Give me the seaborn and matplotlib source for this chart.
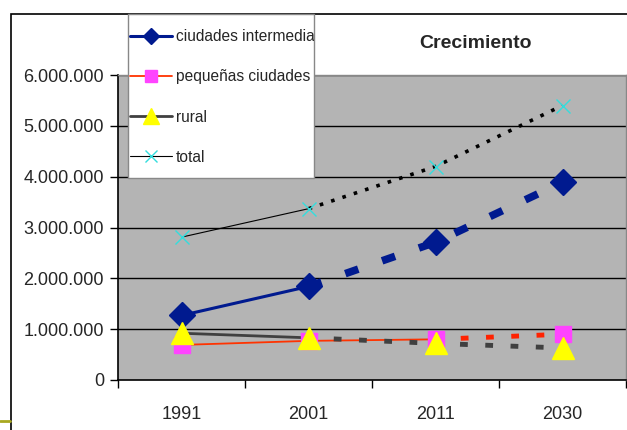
import matplotlib
matplotlib.use('Agg')
import matplotlib.pyplot as plt
from matplotlib import font_manager
from matplotlib.lines import Line2D
from matplotlib.patches import Rectangle
import seaborn as sns

# datos (poblacion)
years = ['1991', '2001', '2011', '2030']
intermedias = [1270000, 1840000, 2710000, 3890000]
pequenas = [690000, 770000, 800000, 900000]
rural = [920000, 830000, 720000, 630000]
total = [2810000, 3370000, 4200000, 5400000]
y_ticks = [0, 1000000, 2000000, 3000000, 4000000, 5000000, 6000000]

sns.set_style('white')
names = {f.name for f in font_manager.fontManager.ttflist}
if 'Liberation Sans Narrow' in names:
    plt.rcParams['font.family'] = ['Liberation Sans Narrow', 'DejaVu Sans']
    fs_tick, fs_leg, fs_title = 15, 13, 16
else:
    plt.rcParams['font.family'] = ['Liberation Sans', 'DejaVu Sans']
    fs_tick, fs_leg, fs_title = 13, 11.2, 14

fig = plt.figure(figsize=(6.27, 4.30), dpi=100)
ax = fig.add_axes([118 / 627, 1 - 380 / 430, 508 / 627, 305 / 430])
ax.set_facecolor('#b4b4b4')

# marco exterior del grafico
fig.patches.append(Rectangle((11 / 627, -0.1), 1.2, (430 - 14) / 430 + 0.1,
                             transform=fig.transFigure, fill=False,
                             edgecolor='black', linewidth=1.2, zorder=0))
fig.lines.append(Line2D([0, 10 / 627], [1 - 421 / 430] * 2, transform=fig.transFigure,
                        color='#a8a820', linewidth=2))

# gridlines
for v in y_ticks[1:]:
    ax.axhline(v, color='black', linewidth=1, zorder=1)

# total: solido hasta 2001, punteado despues
sns.lineplot(x=years[:2], y=total[:2], ax=ax, color='black', linewidth=0.8, zorder=2)
sns.lineplot(x=years[1:], y=total[1:], ax=ax, color='black', linewidth=2.6,
             linestyle=(0, (1, 2.3)), zorder=2)

# ciudades intermedias
sns.lineplot(x=years[:2], y=intermedias[:2], ax=ax, color='#001a8f', linewidth=2.2, zorder=3)
sns.lineplot(x=years[1:], y=intermedias[1:], ax=ax, color='#001a8f', linewidth=5.5,
             linestyle=(0, (1.8, 3.3)), zorder=3)

# pequeñas ciudades
sns.lineplot(x=years[:3], y=pequenas[:3], ax=ax, color='#ff3300', linewidth=1.3, zorder=3)
sns.lineplot(x=years[2:], y=pequenas[2:], ax=ax, color='#ff2200', linewidth=3.5,
             linestyle=(0, (1.6, 3.6)), zorder=3)

# rural
sns.lineplot(x=years[:2], y=rural[:2], ax=ax, color='#404040', linewidth=2, zorder=3)
sns.lineplot(x=years[1:], y=rural[1:], ax=ax, color='#404040', linewidth=3.5,
             linestyle=(0, (1.6, 3.6)), zorder=3)

# marcadores
ax.plot(years, total, linestyle='none', marker='x', color='#33dddd',
        markersize=10, markeredgewidth=1, zorder=5)
ax.plot(years, intermedias, linestyle='none', marker='D', color='#001a8f',
        markersize=13, zorder=5)
ax.plot(years, pequenas, linestyle='none', marker='s', color='#ff44ff',
        markersize=11, zorder=5)
ax.plot(years, rural, linestyle='none', marker='^', color='#ffff00',
        markersize=16, zorder=6)

ax.set_xlim(-0.5, 3.5)
ax.set_ylim(0, 6000000)
ax.set_xticks([-0.5, 0.5, 1.5, 2.5, 3.5])
ax.set_xticklabels([])
ax.set_xticks(range(len(years)), minor=True)
ax.set_xticklabels(years, minor=True, fontsize=fs_tick)
ax.tick_params(axis='x', which='major', length=6, width=1, direction='out', color='black', bottom=True)
ax.tick_params(axis='x', which='minor', length=0, pad=19)
ax.set_yticks(y_ticks)
ax.set_yticklabels([f'{v:,}'.replace(',', '.') for v in y_ticks], fontsize=fs_tick)
ax.tick_params(axis='y', length=6, width=1, direction='out', color='black', left=True, pad=4)
ax.set_xlabel('')
ax.set_ylabel('')

for s in ['top', 'right']:
    ax.spines[s].set_color('#888888')
    ax.spines[s].set_linewidth(1)
for s in ['left', 'bottom']:
    ax.spines[s].set_color('black')
    ax.spines[s].set_linewidth(1.2)

fig.text(476 / 627, 1 - 44 / 430, 'Crecimiento', fontsize=fs_title, fontweight='bold',
         ha='center', va='center')

# leyenda: caja fija, el texto se recorta en el borde
box = Rectangle((128 / 627, 1 - 178 / 430), 186 / 627, 164 / 430,
                transform=fig.transFigure, facecolor='white', edgecolor='#888888',
                linewidth=1, zorder=8)
fig.patches.append(box)

handles = [
    Line2D([], [], color='#001a8f', linewidth=2.2, marker='D', markersize=8),
    Line2D([], [], color='#ff3300', linewidth=1.3, marker='s', markersize=8,
           markerfacecolor='#ff44ff', markeredgecolor='#ff44ff'),
    Line2D([], [], color='#404040', linewidth=2, marker='^', markersize=11,
           markerfacecolor='#ffff00', markeredgecolor='#ffff00'),
    Line2D([], [], color='black', linewidth=0.8, marker='x', markersize=9,
           markeredgecolor='#33dddd'),
]
labels = ['ciudades intermedia', 'pequeñas ciudades', 'rural', 'total']
leg = fig.legend(handles, labels, loc='center left',
                 bbox_to_anchor=(130 / 627, 1 - 97 / 430), fontsize=fs_leg,
                 frameon=False, handlelength=42 / (fs_leg * 100 / 72),
                 handletextpad=0.25, labelspacing=40 / (fs_leg * 100 / 72) - 0.95,
                 borderpad=0, borderaxespad=0)
leg.set_zorder(9)
for t in leg.get_texts():
    t.set_clip_path(box)

fig.savefig('out.png', dpi=100)
